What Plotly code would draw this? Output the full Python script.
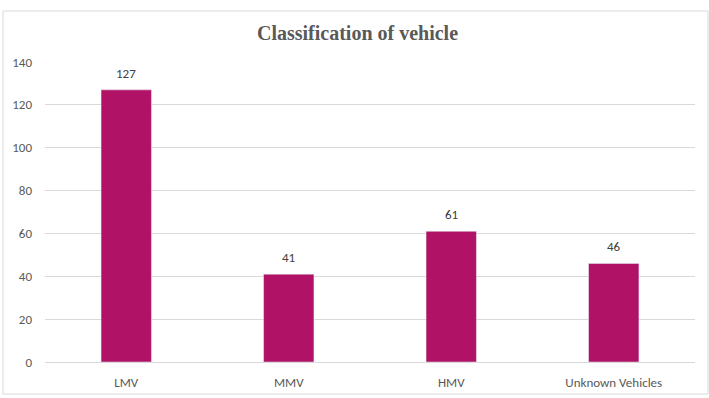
import plotly.graph_objects as go

categories = ["LMV", "MMV", "HMV", "Unknown Vehicles"]
values = [127, 41, 61, 46]
y_ticks = [0, 20, 40, 60, 80, 100, 120, 140]

FONT = "Carlito, Calibri, Liberation Sans Narrow, Open Sans"

fig = go.Figure(go.Bar(
    x=categories, y=values,
    marker=dict(color="#B01265"),
    hoverinfo="x+y",
))

W, H = 709, 398
l, r, t, b = 45, 14, 62, 36
pw, ph = W - l - r, H - t - b

def px(xp):
    return (xp - l) / pw

def py(yp):
    return (H - b - yp) / ph

annotations = [
    dict(x=c, y=v, xref="x", yref="y", text=str(v), showarrow=False,
         yanchor="bottom", yshift=7,
         font=dict(family=FONT, size=13, color="#404040"))
    for c, v in zip(categories, values)
]

fig.update_layout(
    width=W, height=H,
    margin=dict(l=l, r=r, t=t, b=b, autoexpand=False),
    paper_bgcolor="white", plot_bgcolor="white",
    bargap=0.69,
    showlegend=False,
    title=dict(text="<b>Classification of vehicle</b>", x=357.5 / W, xref="container", xanchor="center",
               y=1 - 33 / H, yanchor="middle",
               font=dict(family="Liberation Serif, Times New Roman", size=20, color="#595959")),
    xaxis=dict(showgrid=False, showline=True, linecolor="#d9d9d9", linewidth=1,
               ticks="", ticklabelstandoff=8, automargin=False,
               tickfont=dict(family=FONT, size=13, color="#595959")),
    yaxis=dict(range=[0, 140], tickvals=y_ticks, showgrid=True, gridcolor="#d9d9d9",
               zeroline=False, showline=False, ticks="", ticklabelstandoff=12, automargin=False,
               tickfont=dict(family=FONT, size=13, color="#595959")),
    annotations=annotations,
    shapes=[dict(type="rect", xref="paper", yref="paper",
                 x0=px(3), x1=px(708), y0=py(394), y1=py(11),
                 line=dict(color="#d9d9d9", width=1), fillcolor="rgba(0,0,0,0)", layer="below")],
)

fig.write_html("out.html", config={"displayModeBar": False},
               post_script="document.body.style.margin='0';document.body.style.padding='0';")
